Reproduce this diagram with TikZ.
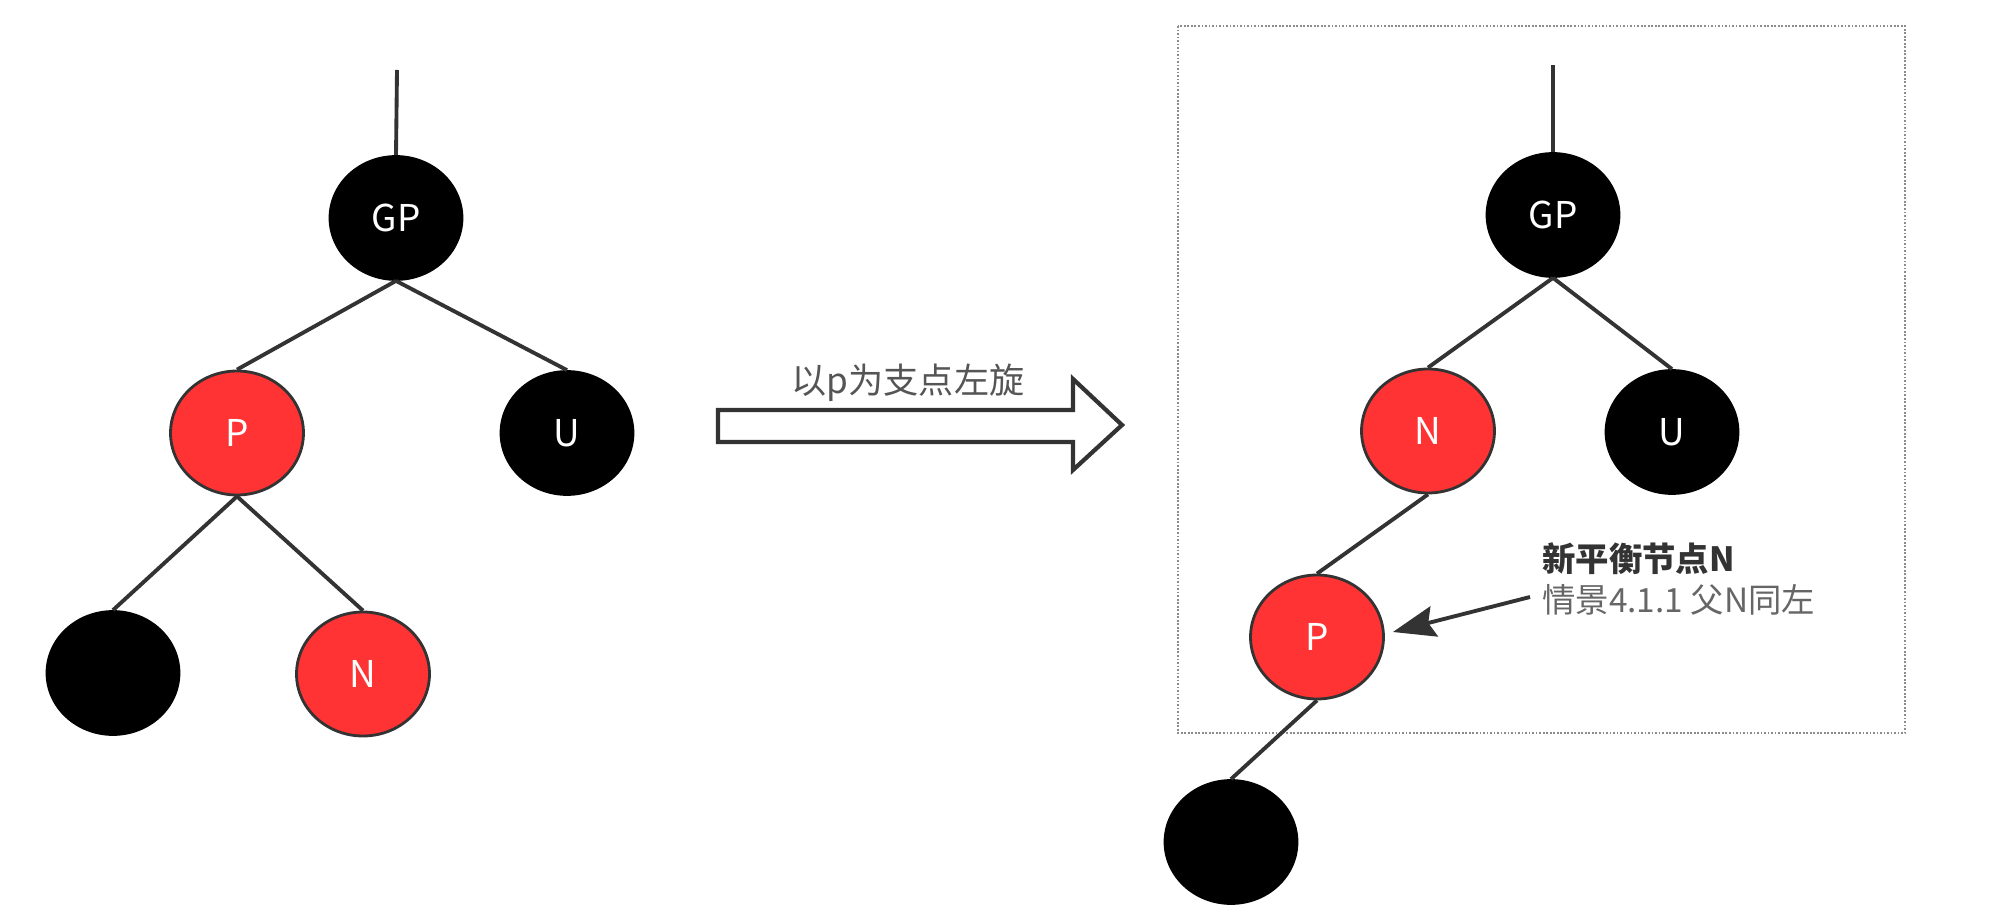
\documentclass[tikz,border=0pt]{standalone}
\usepackage{fontspec}
\setmainfont{Noto Sans CJK SC}
\usetikzlibrary{arrows.meta,positioning,calc,shapes.geometric}

\begin{document}
\begin{tikzpicture}[
  x=0.02cm, y=-0.02cm,
  rbnode/.style={ellipse, minimum width=2.66cm, minimum height=2.48cm, inner sep=0pt,
    text=white, font=\fontsize{21}{25}\selectfont},
  rednode/.style={rbnode, fill=RBRed, draw=RBEdge, line width=1.6pt},
  blacknode/.style={rbnode, fill=black, draw=black, line width=1pt},
  edge/.style={draw=RBEdge, line width=2.2pt},
  pointer/.style={-{Stealth[length=0.85cm,width=0.62cm,inset=0.12cm]}, line width=2.2pt, draw=RBEdge},
  hollow/.style={draw=RBEdge, fill=white, line width=2.4pt, line join=miter},
  caption/.style={font=\fontsize{20}{24}\selectfont, text=RBGray, inner sep=0pt},
  note/.style={font=\fontsize{19}{23}\selectfont, align=left, inner sep=0pt}
]
\definecolor{RBRed}{HTML}{FF3333}
\definecolor{RBEdge}{HTML}{333333}
\definecolor{RBGray}{HTML}{555555}
\definecolor{RBNote}{HTML}{666666}
\definecolor{RBFrame}{HTML}{8C8C8C}

\useasboundingbox (0,0) rectangle (2003,918);

% before
\coordinate (ltop) at (397,70);
\node[blacknode] (lgp) at (396,218) {GP};
\node[rednode] (lp) at (237,433) {P};
\node[blacknode] (lu) at (567,433) {U};
\node[blacknode] (lleaf) at (113,673) {};
\node[rednode] (ln) at (363,674) {N};

\draw[edge] (ltop) -- (lgp.north);
\draw[edge] (lgp.south) -- (lp.north);
\draw[edge] (lgp.south) -- (lu.north);
\draw[edge] (lp.south) -- (lleaf.north);
\draw[edge] (lp.south) -- (ln.north);

% rotation arrow
\draw[hollow] (718,410) -- (1073,410) -- (1073,379) -- (1122,425) -- (1073,470) -- (1073,442) -- (718,442) -- cycle;
\node[caption] (rotlabel) at (908,383) {以p为支点左旋};

% after
\draw[RBFrame, densely dotted, line width=1pt] (1178,26) rectangle (1905,733);

\coordinate (rtop) at (1553,65);
\node[blacknode] (rgp) at (1553,215) {GP};
\node[rednode] (rn) at (1428,431) {N};
\node[blacknode] (ru) at (1672,432) {U};
\node[rednode] (rp) at (1317,637) {P};
\node[blacknode] (rleaf) at (1231,842) {};

\draw[edge] (rtop) -- (rgp.north);
\draw[edge] (rgp.south) -- (rn.north);
\draw[edge] (rgp.south) -- (ru.north);
\draw[edge] (rn.south) -- (rp.north);
\draw[edge] (rp.south) -- (rleaf.north);

\node[note, anchor=west] (newbal) at (1542,579)
  {\textcolor{RBEdge}{\bfseries 新平衡节点N}\\\textcolor{RBNote}{情景4.1.1 父N同左}};
\draw[pointer] ([shift={(-12,18)}]newbal.west) -- ([shift={(8,-5)}]rp.east);
\end{tikzpicture}
\end{document}
